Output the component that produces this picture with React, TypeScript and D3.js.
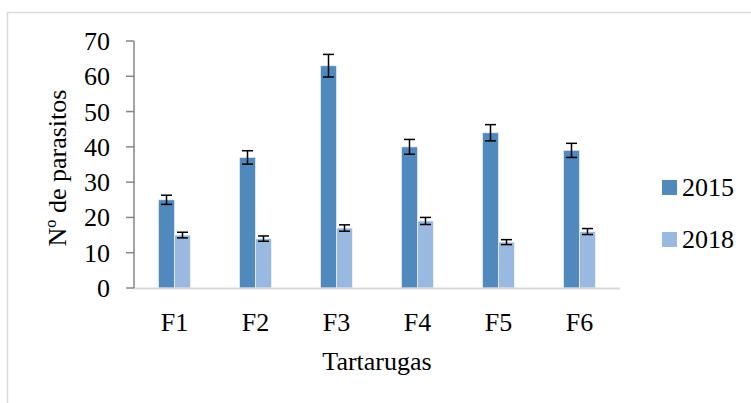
import React from "react";
import * as d3 from "d3";

const categories = ["F1", "F2", "F3", "F4", "F5", "F6"];
const seriesNames = ["2015", "2018"];
const values2015 = [25, 37, 63, 40, 44, 39];
const values2018 = [15, 14, 17, 19, 13, 16];
const err2015 = [1.3, 1.9, 3.2, 2.1, 2.3, 2.0];
const err2018 = [0.8, 0.75, 0.9, 1.0, 0.7, 0.85];
const yTicks = [0, 10, 20, 30, 40, 50, 60, 70];
const colors = ["#4f89bd", "#99b9e0"];

const W = 751;
const H = 403;
const FONT = "Liberation Serif";
const FS = 26;

export default function App() {
  const x = d3.scaleBand<string>().domain(categories).range([134, 620]);
  const y = d3.scaleLinear().domain([0, 70]).range([288, 41]);
  const barW = 16;
  const series = [
    { name: seriesNames[0], vals: values2015, errs: err2015, color: colors[0] },
    { name: seriesNames[1], vals: values2018, errs: err2018, color: colors[1] },
  ];
  const textStyle = { fontFamily: FONT, fontSize: FS };
  return (
    <svg
      width={W}
      height={H}
      style={{ position: "fixed", left: 0, top: 0, background: "#fff" }}
    >
      <rect x={7.5} y={12.5} width={W + 10} height={H + 10} fill="#fff" stroke="#d9d9d9" strokeWidth={1.5} />
      {series.map((s, si) =>
        categories.map((c, i) => {
          const cx = (x(c) as number) + x.bandwidth() / 2;
          const bx = cx - barW + si * barW;
          const top = y(s.vals[i]);
          return (
            <rect
              key={s.name + c}
              x={bx}
              y={top}
              width={barW}
              height={y(0) - top}
              fill={s.color}
              stroke="rgba(255,255,255,0.55)"
              strokeWidth={1}
            />
          );
        })
      )}
      {series.map((s, si) =>
        categories.map((c, i) => {
          const cx = (x(c) as number) + x.bandwidth() / 2 - barW / 2 + si * barW;
          const y1 = y(s.vals[i] + s.errs[i]);
          const y2 = y(s.vals[i] - s.errs[i]);
          return (
            <g key={"e" + s.name + c} stroke="#000" strokeWidth={1.5}>
              <line x1={cx} x2={cx} y1={y1} y2={y2} />
              <line x1={cx - 5.5} x2={cx + 5.5} y1={y1} y2={y1} />
              <line x1={cx - 5.5} x2={cx + 5.5} y1={y2} y2={y2} />
            </g>
          );
        })
      )}
      <line x1={134} x2={620} y1={288.5} y2={288.5} stroke="#d9d9d9" strokeWidth={2} />
      <line x1={134} x2={134} y1={41} y2={288} stroke="#868686" strokeWidth={1.5} />
      {yTicks.map((t) => (
        <g key={t}>
          <line x1={126} x2={134} y1={y(t)} y2={y(t)} stroke="#868686" strokeWidth={1.5} />
          <text x={110} y={y(t)} dy={9} textAnchor="end" style={textStyle} fill="#000">
            {t}
          </text>
        </g>
      ))}
      {categories.map((c) => (
        <text
          key={c}
          x={(x(c) as number) + x.bandwidth() / 2}
          y={331}
          textAnchor="middle"
          style={textStyle}
          fill="#000"
        >
          {c}
        </text>
      ))}
      <text x={377} y={370} textAnchor="middle" style={textStyle} fill="#000">
        Tartarugas
      </text>
      <text
        transform="translate(66,168) rotate(-90)"
        textAnchor="middle"
        style={textStyle}
        fill="#000"
      >
        Nº de parasitos
      </text>
      {series.map((s, si) => (
        <g key={"l" + s.name} transform={`translate(662,${180 + si * 52})`}>
          <rect x={0} y={0} width={15} height={15} fill={s.color} />
          <text x={20} y={16} style={textStyle} fill="#000">
            {s.name}
          </text>
        </g>
      ))}
    </svg>
  );
}
